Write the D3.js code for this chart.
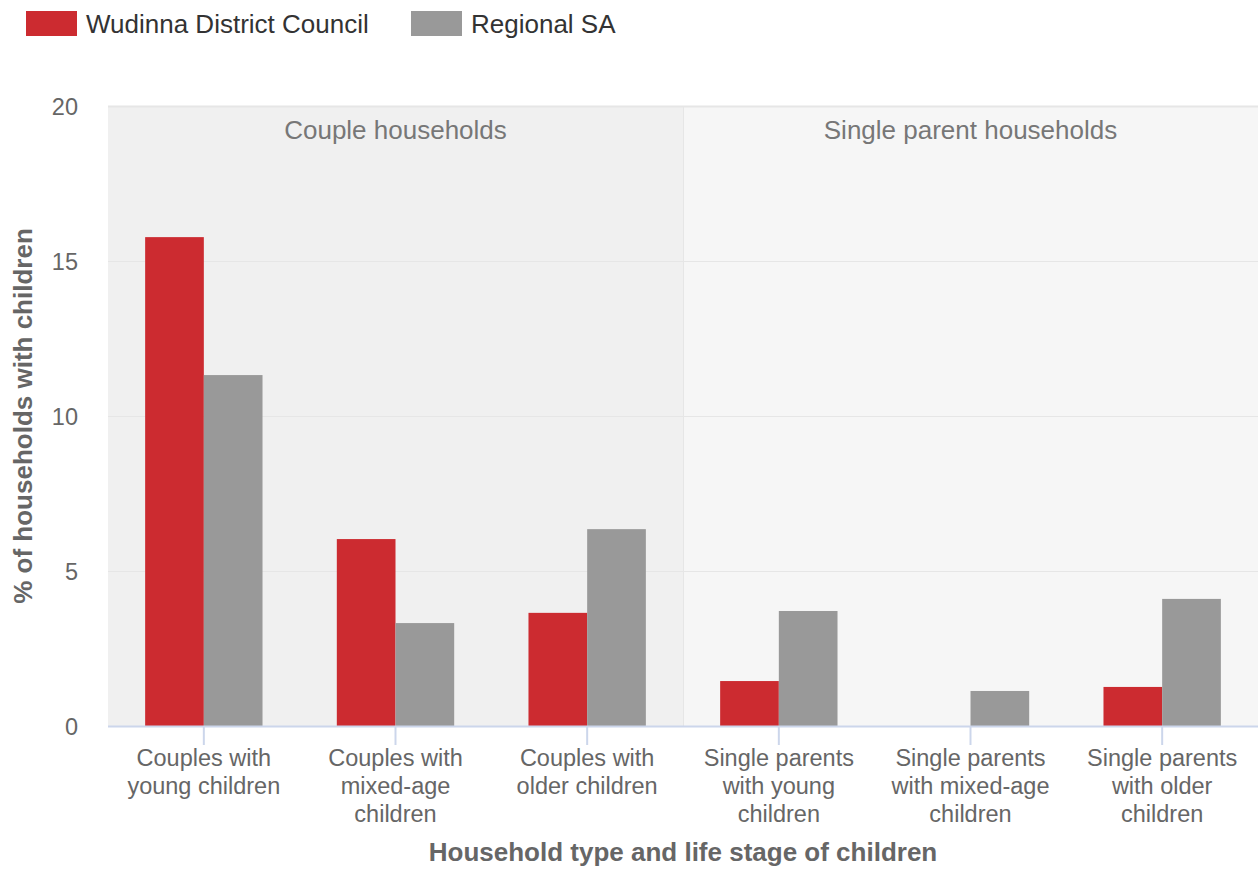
<!DOCTYPE html>
<html><head><meta charset="utf-8">
<script src="https://cdn.jsdelivr.net/npm/d3@7"></script>
<style>body{margin:0;background:#fff;font-family:"Liberation Sans",Arial,sans-serif}</style>
</head><body><svg id="c" width="1259" height="870"></svg>
<script>
const categories = [
  ["Couples with","young children"],
  ["Couples with","mixed-age","children"],
  ["Couples with","older children"],
  ["Single parents","with young","children"],
  ["Single parents","with mixed-age","children"],
  ["Single parents","with older","children"]
];
const seriesNames = ["Wudinna District Council","Regional SA"];
const wudinna = [15.77, 6.03, 3.65, 1.45, 0, 1.26];
const regional = [11.32, 3.32, 6.35, 3.71, 1.13, 4.10];
const colors = ["#cc2b30","#999999"];
const yTicks = [0,5,10,15,20];
const bands = [
  {label:"Couple households", from:0, to:3, fill:"#f0f0f0"},
  {label:"Single parent households", from:3, to:6, fill:"#f6f6f6"}
];

const svg = d3.select("#c");
const L=108, R=1258, T=106, B=726;
const idx = d3.range(categories.length);
const x0 = d3.scaleBand().domain(idx).range([L,R]).padding(0);
const x1 = d3.scaleBand().domain([0,1]).range([0,x0.bandwidth()]).paddingInner(0).paddingOuter(0.633);
const y = d3.scaleLinear().domain([0,20]).range([B,T]);

// plot bands
bands.forEach(b=>{
  const xa = x0(b.from), xb = b.to>=categories.length ? R : x0(b.to);
  svg.append("rect").attr("x",xa).attr("y",T).attr("width",xb-xa).attr("height",B-T).attr("fill",b.fill);
  svg.append("text").attr("x",(xa+xb)/2).attr("y",T+33).attr("text-anchor","middle")
    .attr("font-size",26).attr("fill","#777").text(b.label);
});
svg.append("line").attr("x1",x0(3)+0.5).attr("x2",x0(3)+0.5).attr("y1",T).attr("y2",B).attr("stroke","#e6e6e6");

// grid
svg.append("g").selectAll("line").data(yTicks.filter(d=>d>0)).join("line")
  .attr("x1",L).attr("x2",R).attr("y1",d=>Math.round(y(d))+0.5).attr("y2",d=>Math.round(y(d))+0.5)
  .attr("stroke","#e6e6e6").attr("stroke-width",d=>d===20?2:1);

// y labels
const yAxis = d3.axisLeft(y).tickValues(yTicks).tickSize(0).tickPadding(0);
const gy = svg.append("g").attr("transform",`translate(${L-30},0)`).call(yAxis);
gy.select(".domain").remove();
gy.selectAll("text").attr("font-size",23.5).attr("fill","#666").attr("font-family","Liberation Sans, Arial, sans-serif").attr("dy","0.35em");

// bars
const series = [wudinna, regional];
series.forEach((vals,si)=>{
  svg.append("g").selectAll("rect").data(vals).join("rect")
    .attr("x",(d,i)=>x0(i)+x1(si)).attr("width",x1.bandwidth())
    .attr("y",d=>y(d)).attr("height",d=>B-y(d)).attr("fill",colors[si]);
});

// x axis
svg.append("line").attr("x1",L).attr("x2",R).attr("y1",B+0.5).attr("y2",B+0.5).attr("stroke","#ccd6eb").attr("stroke-width",2);
const xAxis = d3.axisBottom(x0).tickSize(19).tickFormat("");
const gx = svg.append("g").attr("transform",`translate(0,${B})`).call(xAxis);
gx.select(".domain").remove();
gx.selectAll("line").attr("stroke","#ccd6eb").attr("stroke-width",2);
idx.forEach(i=>{
  const t = svg.append("text").attr("x",x0(i)+x0.bandwidth()/2).attr("y",766).attr("text-anchor","middle")
    .attr("font-size",23.5).attr("fill","#666");
  categories[i].forEach((ln,k)=>t.append("tspan").attr("x",x0(i)+x0.bandwidth()/2).attr("y",766+k*28).text(ln));
});

// axis titles
svg.append("text").attr("x",(L+R)/2).attr("y",861).attr("text-anchor","middle").attr("font-size",26)
  .attr("font-weight","bold").attr("fill","#666").text("Household type and life stage of children");
svg.append("text").attr("transform",`translate(32,${(T+B)/2}) rotate(-90)`).attr("text-anchor","middle").attr("font-size",26)
  .attr("font-weight","bold").attr("fill","#666").text("% of households with children");

// legend
const legX = [26, 411];
seriesNames.forEach((n,i)=>{
  svg.append("rect").attr("x",legX[i]).attr("y",11).attr("width",51).attr("height",25).attr("fill",colors[i]);
  svg.append("text").attr("x",legX[i]+60).attr("y",33).attr("font-size",26).attr("fill","#333").text(n);
});
</script></body></html>
